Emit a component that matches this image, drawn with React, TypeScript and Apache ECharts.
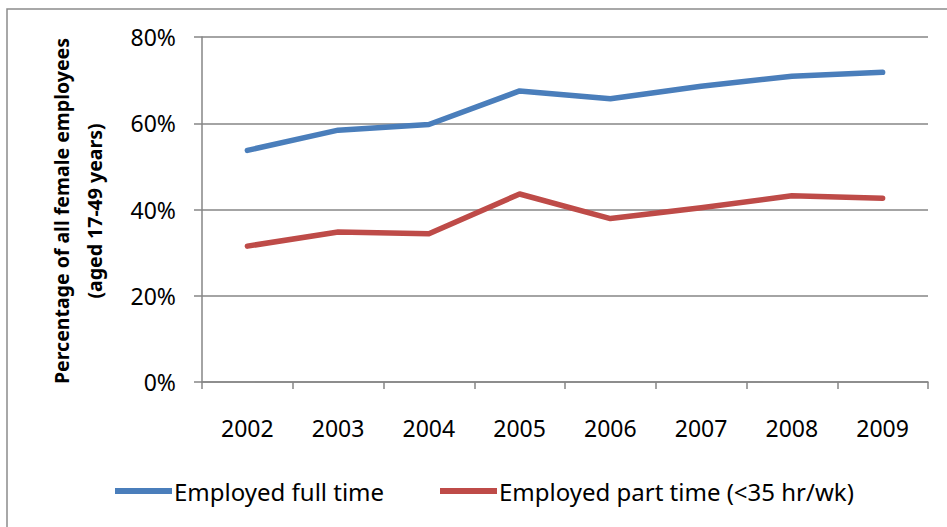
import React, { useEffect, useRef } from "react";
import * as echarts from "echarts";

const years = ["2002", "2003", "2004", "2005", "2006", "2007", "2008", "2009"];
const fullTime = [53.7, 58.4, 59.7, 67.5, 65.7, 68.6, 70.9, 71.8];
const partTime = [31.5, 34.8, 34.4, 43.6, 37.9, 40.4, 43.2, 42.6];
const seriesNames = ["Employed full time", "Employed part time (<35 hr/wk)"];
const yTitle = "Percentage of all female employees\n(aged 17-49 years)";

const FONT = "'Noto Sans', sans-serif";

export default function App() {
  const ref = useRef<HTMLDivElement>(null);
  useEffect(() => {
    document.body.style.margin = "0";
    const chart = echarts.init(ref.current!, null, { renderer: "svg" });
    chart.setOption({
      animation: false,
      backgroundColor: "#ffffff",
      textStyle: { fontFamily: FONT },
      grid: { left: 202, top: 37, right: 19, bottom: 145, containLabel: false },
      xAxis: {
        type: "category",
        data: years,
        boundaryGap: true,
        axisLine: { lineStyle: { color: "#868686", width: 1.5 } },
        axisTick: { show: true, length: 7, lineStyle: { color: "#868686", width: 1.5 } },
        axisLabel: { color: "#000", fontSize: 23, fontFamily: FONT, margin: 34 },
        splitLine: { show: false },
      },
      yAxis: {
        type: "value",
        min: 0,
        max: 80,
        interval: 20,
        axisLine: { show: true, lineStyle: { color: "#868686", width: 1.5 } },
        axisTick: { show: true, length: 8, lineStyle: { color: "#868686", width: 1.5 } },
        axisLabel: { color: "#000", fontSize: 23, fontFamily: FONT, margin: 26, formatter: "{value}%" },
        splitLine: { show: true, lineStyle: { color: "#868686", width: 1.5 } },
      },
      legend: [
        {
          data: [seriesNames[0]],
          left: 115,
          top: 479,
          padding: 0,
          itemWidth: 57,
          itemHeight: 6,
          icon: "rect",
          textStyle: { color: "#000", fontSize: 24, fontFamily: FONT, padding: [0, 0, 0, -3] },
        },
        {
          data: [seriesNames[1]],
          left: 440,
          top: 479,
          padding: 0,
          itemWidth: 57,
          itemHeight: 6,
          icon: "rect",
          textStyle: { color: "#000", fontSize: 24, fontFamily: FONT, padding: [0, 0, 0, -3] },
        },
      ],
      graphic: [
        {
          type: "rect",
          shape: { x: 7, y: 9, width: 960, height: 540 },
          style: { fill: "none", stroke: "#8c8c8c", lineWidth: 1.5 },
          silent: true,
        },
        {
          type: "text",
          x: 78,
          y: 211,
          rotation: Math.PI / 2,
          style: {
            text: yTitle,
            font: `bold 19.5px ${FONT}`,
            fill: "#000",
            align: "center",
            verticalAlign: "middle",
            lineHeight: 33,
          },
        },
      ],
      series: [
        {
          name: seriesNames[0],
          type: "line",
          data: fullTime,
          symbol: "none",
          itemStyle: { color: "#4A7EBB" },
          lineStyle: { color: "#4A7EBB", width: 5.5, cap: "round", join: "round" },
        },
        {
          name: seriesNames[1],
          type: "line",
          data: partTime,
          symbol: "none",
          itemStyle: { color: "#BE4B48" },
          lineStyle: { color: "#BE4B48", width: 5.5, cap: "round", join: "round" },
        },
      ],
    });
    return () => chart.dispose();
  }, []);
  return <div ref={ref} style={{ position: "absolute", left: 0, top: 0, width: 947, height: 527 }} />;
}
